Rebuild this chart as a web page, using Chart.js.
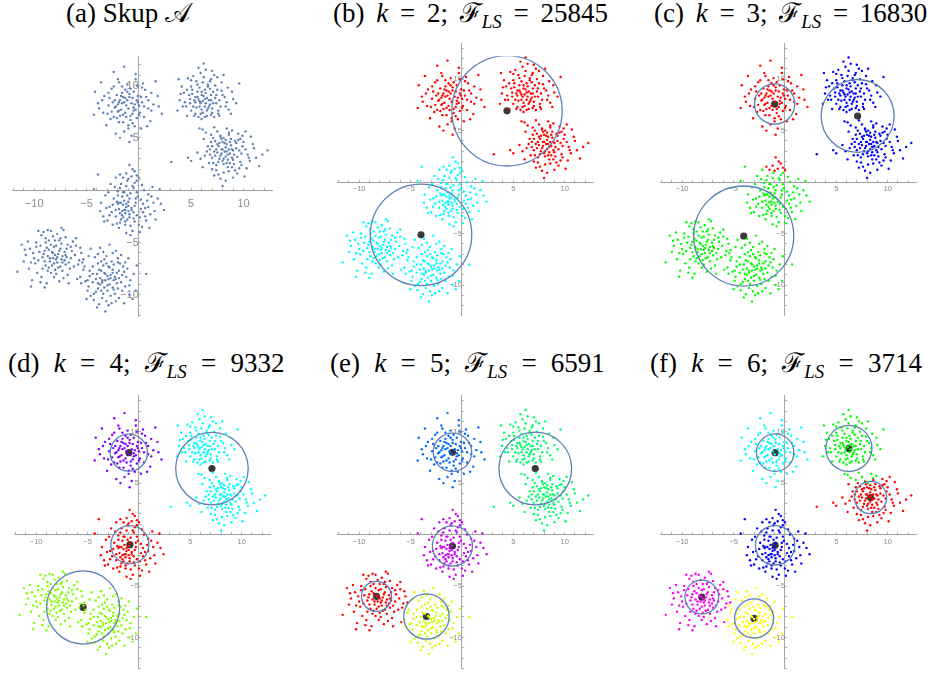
<!DOCTYPE html>
<html>
<head>
<meta charset="utf-8">
<script src="https://cdn.jsdelivr.net/npm/chart.js@4.4.1/dist/chart.umd.min.js"></script>
<style>
body{margin:0;background:#fff;width:928px;height:673px;position:relative;overflow:hidden}
canvas{position:absolute}
.ttl{position:absolute;font-family:"Liberation Serif",serif;font-size:27px;line-height:26px;white-space:nowrap;color:#000}
.ttl.k{word-spacing:5px}
.ttl.k2{word-spacing:7.5px}
.ttl .sb{font-size:0.7em;vertical-align:-0.3em;line-height:0;font-style:italic;word-spacing:0}
</style>
</head>
<body>
<div class="ttl" style="left:66px;top:0">(a) Skup 𝒜</div>
<div class="ttl k" style="left:333px;top:0">(b) <i>k</i> = 2; ℱ<span class="sb">LS</span> = 25845</div>
<div class="ttl k" style="left:654px;top:0">(c) <i>k</i> = 3; ℱ<span class="sb">LS</span> = 16830</div>
<div class="ttl k2" style="left:8px;top:350px">(d) <i>k</i> = 4; ℱ<span class="sb">LS</span> = 9332</div>
<div class="ttl k2" style="left:330px;top:350px">(e) <i>k</i> = 5; ℱ<span class="sb">LS</span> = 6591</div>
<div class="ttl k2" style="left:650px;top:350px">(f) <i>k</i> = 6; ℱ<span class="sb">LS</span> = 3714</div>
<canvas id="pa"></canvas><canvas id="pb"></canvas><canvas id="pc"></canvas>
<canvas id="pd"></canvas><canvas id="pe"></canvas><canvas id="pf"></canvas>
<script>
// point set A, grouped by blob
const clusterA = [[-1.2,8.1],[-0.5,7.6],[-1.8,8.6],[-0.9,9.2],[0.3,8.4],[-2.3,7.9],[-1.5,7.2],[-0.2,6.9],[-2.8,8.8],[0.9,7.8],
 [-1.1,10.1],[-3.4,7.4],[-0.6,8.8],[-1.9,6.5],[0.6,9.6],[-2.6,9.7],[1.4,8.2],[-1.4,5.6],[-0.3,10.6],[-3.9,8.3],
 [-0.8,7.1],[-2.1,9.1],[0.1,7.4],[-1.6,8.3],[-0.4,8.2],[-2.4,7.0],[1.1,6.6],[-3.1,6.2],[-0.7,5.2],[-1.3,9.6],
 [0.4,10.2],[-2.0,10.6],[1.8,9.0],[-4.2,9.4],[-1.0,6.2],[-2.9,8.1],[0.7,8.9],[-1.7,7.7],[-0.1,9.0],[-3.6,10.3],
 [2.2,7.3],[-1.4,11.8],[-2.2,5.4],[0.2,5.9],[-0.9,4.6],[-3.3,9.0],[1.6,10.4],[-1.9,8.4],[-0.5,7.9],[-1.1,8.6],
 [-2.5,8.4],[-0.2,8.6],[0.5,7.0],[-1.6,9.9],[-2.7,6.8],[-3.8,7.8],[1.2,9.3],[-0.6,6.4],[-1.3,7.4],[-2.0,7.5],
 [0.8,6.1],[-4.3,7.2],[-0.3,11.1],[-2.4,11.3],[1.9,8.0],[-1.8,5.0],[-0.8,9.7],[0.0,8.1],[-1.5,8.9],[-2.2,8.0],
 [-1.4,8.4],[-0.7,8.3],[-1.9,7.6],[-0.3,7.7],[-1.2,7.0],[-0.9,8.9],[-2.3,8.6],[-0.1,8.4],[-1.6,9.3],[-0.5,9.4],
 [-2.0,8.2],[-1.0,7.8],[0.2,8.9],[-1.8,7.1],[-0.6,7.3],[-2.6,7.5],[-1.3,8.8],[0.5,8.0],[-0.8,6.7],[-1.7,9.0],
 [-2.1,6.9],[0.0,7.2],[-1.1,9.4],[-2.9,9.3],[0.9,8.6],[-0.4,6.1],[-1.5,6.5],[-3.0,7.3],[1.2,7.6],[-0.2,10.0],
 [-2.4,9.9],[-1.0,5.9],[-3.5,8.6],[0.3,9.8],[-1.9,10.3]];
const clusterB = [[6.1,8.5],[5.6,8.9],[6.8,8.2],[6.4,9.3],[5.2,8.0],[7.3,8.8],[6.0,7.7],[5.8,9.8],[7.0,7.4],[4.8,9.1],
 [6.6,10.1],[7.8,8.0],[5.4,7.3],[6.3,8.0],[4.4,8.4],[7.5,9.6],[5.9,8.3],[6.9,9.1],[5.1,9.6],[8.2,8.9],
 [6.2,10.8],[4.1,9.9],[7.2,7.0],[5.5,10.4],[8.6,7.7],[6.5,7.1],[3.9,8.6],[7.9,10.3],[5.0,7.6],[6.7,8.6],
 [6.0,9.1],[5.3,8.6],[7.1,8.3],[4.6,7.1],[8.9,9.4],[6.4,11.5],[5.7,7.0],[7.6,7.6],[4.7,10.7],[6.9,10.6],
 [9.3,8.3],[3.7,7.6],[6.2,12.1],[8.1,11.0],[5.8,8.0],[6.5,8.8],[5.6,9.4],[7.4,9.1],[4.9,8.3],[6.1,7.4],
 [8.4,8.4],[5.2,10.9],[7.7,7.1],[6.8,9.7],[4.3,9.3],[9.6,10.2],[5.9,11.2],[6.6,7.8],[7.3,10.0],[5.4,8.4],
 [6.3,9.6],[8.0,9.1],[4.5,8.0],[7.0,11.4],[5.0,9.9],[6.0,6.8],[8.8,7.3],[3.8,10.6],[6.7,8.0],[5.7,8.7],
 [6.3,8.7],[5.8,8.5],[6.9,8.6],[6.0,9.4],[5.4,8.9],[7.1,9.4],[6.5,7.6],[5.5,7.9],[7.4,8.3],[6.2,9.0],
 [5.9,7.3],[6.6,9.9],[4.9,8.7],[7.7,8.6],[5.1,9.2],[6.4,8.3],[7.0,7.8],[5.6,10.1],[7.9,9.5],[4.6,9.6],
 [6.8,10.4],[5.3,7.1],[8.3,8.0],[6.1,10.3],[4.2,8.0],[7.5,10.8],[5.7,11.7],[8.5,9.8],[4.0,9.2],[6.9,7.2],
 [7.6,7.3],[5.0,10.5],[9.0,8.7],[6.3,7.0],[7.2,11.0]];
const clusterC = [[8.2,3.7],[7.6,4.2],[8.9,3.1],[8.4,4.4],[7.3,3.3],[9.3,4.0],[8.0,2.8],[7.8,5.1],[9.1,2.5],[6.9,4.6],
 [8.6,5.3],[9.8,3.5],[7.4,2.4],[8.3,3.2],[6.5,3.7],[9.5,4.8],[7.9,3.9],[8.8,4.3],[7.1,5.0],[10.2,3.9],
 [8.1,1.7],[6.2,4.9],[9.2,1.9],[10.6,2.8],[8.5,2.2],[5.9,3.0],[9.9,5.2],[7.0,2.0],[8.7,3.5],
 [7.7,3.0],[8.0,4.6],[9.0,3.8],[6.7,2.6],[10.9,4.4],[7.2,1.4],[9.6,2.1],
 [11.5,2.3],[5.0,2.8],[8.3,0.9],[10.1,1.3],[7.9,3.5],[8.6,3.9],[7.5,3.6],[9.4,3.2],[6.8,3.4],[8.1,2.5],
 [10.4,3.4],[7.3,4.7],[9.7,2.7],[8.8,4.9],[6.1,2.2],[12.3,3.8],[7.8,1.1],[8.5,2.9],[9.3,4.5],[7.4,3.9],
 [8.3,4.8],[9.9,4.2],[6.6,4.2],[9.0,1.2],[7.0,3.1],[8.0,0.4],[10.7,5.1],[3.1,2.7],[8.7,2.6],[7.7,4.5],
 [4.7,3.1],[11.2,3.1],[9.5,5.4],[10.2,5.6],
 [8.0,3.9],[8.5,3.4],[7.8,3.3],[8.9,3.9],[8.3,4.1],[7.5,4.4],[9.1,3.4],[8.1,3.0],[8.7,4.6],[7.2,3.7],
 [9.6,3.8],[8.4,2.6],[7.6,2.7],[9.2,4.7],[8.2,4.5],[7.0,4.2],[9.0,2.9],[8.6,1.8],[7.4,1.9],[9.8,2.4],
 [10.0,4.6],[6.8,3.9],[8.9,2.2],[10.5,3.1],[7.9,4.9],[6.3,3.3],[9.4,1.6],[11.0,4.0],[7.1,2.6],[8.4,3.7],
 [5.6,3.6],[9.7,4.9],[7.6,1.5],[10.3,2.1],[11.8,3.4]];
const clusterCtop = [[7.5,5.6],[8.4,5.9],[8.9,5.7],[6.4,5.5],[6.9,5.3],[7.2,6.0],[6.1,5.8],[7.8,5.2],[8.6,5.5],[5.8,5.9],[8.1,5.0]];
const clusterD = [[-1.0,-1.1],[-1.6,-0.6],[-0.4,-1.5],[-0.8,-0.3],[-1.9,-1.8],[0.2,-0.9],[-1.3,-2.2],[-0.5,0.2],[-2.4,-0.8],[0.6,-1.7],
 [-1.1,-2.8],[-2.0,-0.1],[0.9,-0.4],[-1.5,-1.4],[-0.2,-2.4],[-2.8,-1.6],[0.3,0.5],[-1.8,-3.1],[-0.7,-1.9],[1.4,-1.2],
 [-3.2,-0.5],[-1.2,0.4],[0.0,-3.3],[-2.2,-2.5],[1.1,-2.3],[-0.9,-0.8],[-1.4,-1.9],[-0.3,-1.2],[-2.6,-2.1],[0.5,0.0],
 [-1.7,0.6],[-3.6,-1.2],[1.8,-0.8],[-0.6,-3.9],[-1.2,-1.6],[-2.0,-1.3],[0.7,-2.9],[-1.5,-2.6],[-0.1,-0.6],[-3.0,-2.9],
 [2.4,-1.9],[-4.3,0.1],[-0.8,-4.3],[1.3,0.3],[-1.8,-2.2],[-1.3,-1.9],[-1.6,-2.0],[-1.0,-1.5],[-2.3,0.3],[0.2,-1.8],
 [-2.9,-0.2],[0.8,-1.0],[-0.4,0.7],[-1.9,-3.6],[1.6,-2.8],[-3.7,-2.0],[-0.5,-2.7],[-1.1,0.9],[-2.5,-3.3],[1.0,-3.6],
 [-0.2,0.9],[-1.4,-0.2],[0.4,-2.1],[-2.1,-1.1],[-1.7,-1.2],[-0.9,-2.3],[0.1,-4.0],[-3.3,-3.0],[2.0,0.1],[-1.3,-3.3],
 [-3.9,1.5],[-2.2,1.2],
 [-1.2,-1.3],[-0.7,-1.7],[-1.6,-2.4],[-1.1,-0.5],[-0.3,-0.8],[-1.9,-1.2],[-0.9,-2.6],[-1.4,-1.0],[-0.5,-2.1],[-2.2,-1.9],
 [-1.0,-2.0],[0.4,-1.3],[-1.7,-2.8],[-0.6,0.4],[-2.5,-1.4],[0.1,-2.6],[-1.3,-3.0],[-2.0,-0.5],[0.9,-1.6],[-0.2,-0.2],
 [-2.8,-2.4],[-1.5,-0.2],[0.6,-2.5],[-2.1,-3.2],[-0.8,-3.4],[1.2,-0.6],[-3.1,-1.7],[-0.4,-3.0],[-1.8,0.2],[1.5,-2.0],
 [-2.7,0.6],[0.3,-3.5],[-3.4,-2.5],[2.1,-1.3],[-1.2,-4.1]];
const clusterDtop = [[-1.2,1.6],[-0.6,2.0],[-0.2,1.4],[-1.5,1.2],[-0.9,2.4],[-0.4,1.8],[-1.8,1.5],[0.0,1.2],[-1.0,1.1],[-0.7,1.3]];
const clusterE = [[-8.0,-6.2],[-8.6,-5.7],[-7.4,-6.6],[-7.9,-5.3],[-9.0,-6.8],[-7.1,-5.9],[-8.3,-7.2],[-7.6,-4.8],[-9.5,-5.9],[-6.7,-6.9],
 [-8.2,-4.4],[-9.2,-7.5],[-6.5,-5.4],[-8.7,-6.3],[-7.3,-7.7],[-10.0,-6.5],[-7.0,-4.5],[-8.9,-5.0],[-7.8,-6.9],[-6.1,-6.2],
 [-9.7,-7.9],[-8.4,-3.9],[-6.8,-8.1],[-10.4,-5.6],[-7.5,-5.6],[-8.1,-8.3],[-5.8,-7.1],[-9.3,-4.3],[-7.7,-6.1],[-8.5,-6.8],
 [-6.9,-6.4],[-9.9,-7.0],[-8.8,-8.9],[-6.3,-4.9],[-10.8,-6.2],[-7.2,-3.8],[-5.5,-6.0],[-9.1,-6.1],[-8.0,-7.6],[-7.4,-5.1],
 [-11.6,-7.8],[-6.6,-7.5],[-8.6,-4.8],[-10.2,-8.6],[-7.9,-6.6],[-8.3,-5.9],[-7.1,-6.7],[-9.4,-5.3],[-8.9,-7.2],[-6.4,-5.8],
 [-10.6,-4.9],[-7.6,-8.7],[-5.9,-8.5],[-9.6,-3.9],[-8.4,-7.9],[-7.0,-7.1],[-11.2,-5.2],[-8.1,-5.4],[-6.0,-4.6],[-9.0,-9.3],
 [-7.3,-6.3],[-8.7,-7.7],[-10.1,-6.0],[-6.8,-5.2],[-7.8,-4.2],[-9.3,-8.3],[-5.3,-6.6],[-8.2,-6.5],[-7.5,-7.3],[-9.8,-5.0],
 [-10.3,-9.2],
 [-8.2,-6.0],[-7.8,-6.4],[-8.5,-6.5],[-7.6,-5.8],[-8.8,-5.5],[-7.3,-6.9],[-8.1,-7.0],[-9.2,-6.4],[-7.0,-6.2],[-8.4,-5.2],
 [-7.7,-7.4],[-9.0,-5.8],[-6.9,-5.6],[-8.6,-7.4],[-7.5,-4.6],[-9.6,-6.7],[-6.5,-6.5],[-8.9,-4.6],[-7.9,-8.0],[-10.3,-6.9],
 [-6.2,-7.3],[-9.8,-5.4],[-8.0,-4.8],[-7.2,-8.4],[-10.9,-5.7],[-6.0,-5.3],[-9.4,-8.8],[-8.7,-3.8],[-5.7,-6.7],[-10.5,-7.5],
 [-7.4,-3.6],[-9.1,-4.0],[-6.7,-8.9],[-11.0,-6.8],[-5.6,-5.5]];
const clusterF = [[-3.0,-8.2],[-3.6,-7.7],[-2.4,-8.6],[-2.8,-7.4],[-3.9,-8.9],[-2.1,-7.9],[-3.3,-9.3],[-2.6,-6.8],[-4.4,-8.0],[-1.7,-8.8],
 [-3.1,-6.3],[-4.1,-9.7],[-1.5,-7.3],[-3.7,-8.4],[-2.3,-9.9],[-4.9,-8.6],[-2.0,-6.5],[-3.9,-7.0],[-2.8,-9.0],[-1.2,-8.3],
 [-4.6,-10.1],[-3.4,-5.9],[-1.9,-10.3],[-5.3,-7.6],[-2.5,-7.6],[-3.1,-10.6],[-0.9,-9.1],[-4.2,-6.4],[-2.7,-8.1],[-3.5,-8.8],
 [-1.9,-8.4],[-4.8,-9.2],[-3.8,-10.9],[-1.3,-6.9],[-5.6,-8.3],[-2.2,-5.8],[-0.5,-8.0],[-4.0,-8.0],[-3.0,-9.6],[-2.4,-7.1],
 [-3.2,-11.6],[-1.6,-9.6],[-3.6,-6.8],[-5.0,-10.4],[-2.9,-8.5],[-3.3,-7.9],[-2.1,-8.9],[-4.4,-7.3],[-3.9,-9.4],[-1.4,-7.8],
 [-5.4,-6.9],[-2.6,-10.8],[-0.9,-10.0],[-4.6,-5.6],[-3.4,-9.9],[-2.0,-9.4],[-4.7,-7.7],[-3.1,-7.0],[-1.0,-6.5],[-4.0,-11.2],
 [-2.3,-8.3],[-3.7,-9.0],[-5.1,-8.7],[-1.8,-7.0],[-2.8,-5.2],[-4.3,-10.5],[-0.3,-9.6],[-3.2,-8.6],[-2.5,-9.3],[-4.8,-6.3],
 [0.7,-8.0],[-0.2,-7.2],
 [-3.2,-8.0],[-2.7,-8.4],[-3.5,-8.6],[-2.5,-7.9],[-3.8,-7.6],[-2.2,-8.5],[-3.0,-9.1],[-2.9,-7.3],[-4.1,-8.5],[-1.9,-7.7],
 [-3.4,-7.2],[-2.4,-9.5],[-3.6,-9.6],[-1.6,-8.1],[-4.4,-8.8],[-2.0,-6.9],[-3.3,-6.6],[-4.7,-8.2],[-1.3,-9.2],[-2.7,-10.1],
 [-3.9,-6.1],[-1.1,-7.5],[-4.3,-9.9],[-2.2,-10.6],[-5.2,-7.3],[-0.8,-8.6],[-3.5,-10.3],[-1.7,-6.2],[-4.9,-9.6],[-2.9,-11.0],
 [-0.6,-10.4],[-5.5,-8.9],[-3.7,-5.5],[-1.4,-10.8],[-2.5,-6.0]];

const groups = [clusterA, clusterB, clusterC, clusterCtop, clusterD, clusterDtop, clusterE, clusterF];

// colour of each group in each panel  (order: A, B, C, Ctop, D, Dtop, E, F)
const colorsA = ['#5e81b5','#5e81b5','#5e81b5','#5e81b5','#5e81b5','#5e81b5','#5e81b5','#5e81b5'];
const colorsB = ['#ff0000','#ff0000','#ff0000','#ff0000','#00ffff','#00ffff','#00ffff','#00ffff'];
const colorsC = ['#ff0000','#0000ff','#0000ff','#0000ff','#00ff00','#ff0000','#00ff00','#00ff00'];
const colorsD = ['#8000ff','#00ffff','#00ffff','#00ffff','#ff0000','#ff0000','#80ff00','#80ff00'];
const colorsE = ['#0066ff','#00ff66','#00ff66','#00ff66','#cc00ff','#cc00ff','#ff0000','#ccff00'];
const colorsF = ['#00ffff','#00ff00','#ff0000','#00ff00','#0000ff','#0000ff','#ff00ff','#ffff00'];

// cluster centres and circle radii
const centersB = [[4.39,6.92],[-3.98,-5.12]];
const radiiB = [5.37,4.94];
const centersC = [[-1.0,7.58],[7.08,6.42],[-4.01,-5.24]];
const radiiC = [1.96,3.55,4.87];
const centersD = [[-0.98,7.96],[7.11,6.41],[-0.88,-0.98],[-5.43,-7.08]];
const radiiD = [1.81,3.53,1.85,3.56];
const centersE = [[-0.92,7.99],[7.14,6.41],[-0.92,-1.11],[-8.31,-6.0],[-3.45,-7.96]];
const radiiE = [1.87,3.54,1.95,1.46,2.21];
const centersF = [[-0.95,7.96],[6.23,8.37],[8.34,3.6],[-0.95,-1.04],[-8.09,-6.07],[-3.0,-8.15]];
const radiiF = [1.82,2.24,1.57,1.92,1.64,1.9];

const PX = 10.55; // pixels per unit

const panels = [
  {id:'pa', colors:colorsA, centers:[], radii:[], ox:138.7, oy:189.7, xr:[-12.1,12.8], yr:[-12.1,12.8], fs:11, px:10, py:6.7},
  {id:'pb', colors:colorsB, centers:centersB, radii:radiiB, clipTop:12.23, ox:461.7, oy:181.7, xr:[-12.1,12.8], yr:[-12.95,13.45], fs:7.5, px:5.8, py:5.7},
  {id:'pc', colors:colorsC, centers:centersC, radii:radiiC, ox:784.3, oy:181.7, xr:[-12.1,12.8], yr:[-12.95,13.45], fs:7.5, px:5.8, py:5.7},
  {id:'pd', colors:colorsD, centers:centersD, radii:radiiD, ox:139, oy:534, xr:[-12.1,12.8], yr:[-13.0,13.5], fs:7.5, px:5.8, py:5.7},
  {id:'pe', colors:colorsE, centers:centersE, radii:radiiE, ox:461.7, oy:534, xr:[-12.1,12.8], yr:[-13.0,13.5], fs:7.5, px:5.8, py:5.7},
  {id:'pf', colors:colorsF, centers:centersF, radii:radiiF, ox:784.3, oy:534, xr:[-12.1,12.8], yr:[-13.0,13.5], fs:7.5, px:5.8, py:5.7}
];

const ringPlugin = {
  id: 'rings',
  afterDatasetsDraw(chart, args, o) {
    if (!o.centers || !o.centers.length) return;
    const {ctx, chartArea, scales: {x, y}} = chart;
    ctx.save();
    const top = o.clipTop != null ? y.getPixelForValue(o.clipTop) : chartArea.top;
    ctx.beginPath();
    ctx.rect(chartArea.left, top, chartArea.right - chartArea.left, chartArea.bottom - top);
    ctx.clip();
    ctx.strokeStyle = '#5b7fb6';
    ctx.lineWidth = 1.3;
    o.centers.forEach((c, i) => {
      const cx = x.getPixelForValue(c[0]), cy = y.getPixelForValue(c[1]);
      const r = x.getPixelForValue(c[0] + o.radii[i]) - cx;
      ctx.beginPath();
      ctx.arc(cx, cy, r, 0, Math.PI * 2);
      ctx.stroke();
    });
    ctx.restore();
  }
};

function axis(range, pos, fs, pad) {
  return {
    type: 'linear', min: range[0], max: range[1], position: pos,
    afterFit(sc) {
      if (sc.isHorizontal()) sc.height = 0; else sc.width = 0;
      sc.paddingLeft = sc.paddingRight = sc.paddingTop = sc.paddingBottom = 0;
    },
    ticks: {
      stepSize: 1, maxTicksLimit: 100, includeBounds: false, autoSkip: false,
      maxRotation: 0, minRotation: 0, padding: pad, color: '#8a8a8a',
      font: {size: fs, family: 'Liberation Sans'},
      callback: v => (v !== 0 && v % 5 === 0) ? (v < 0 ? '\u2212' + (-v) : '' + v) : ''
    },
    grid: {
      drawOnChartArea: false, drawTicks: true, tickLength: -3, tickWidth: 1,
      tickColor: c => (c.tick && c.tick.value === 0) ? 'rgba(0,0,0,0)' : '#b4b4b4'
    },
    border: {display: true, color: '#a6a6a6', width: 1}
  };
}

panels.forEach(p => {
  const cv = document.getElementById(p.id);
  const left = Math.round(p.ox + p.xr[0] * PX), top = Math.round(p.oy - p.yr[1] * PX);
  const w = Math.round((p.xr[1] - p.xr[0]) * PX), h = Math.round((p.yr[1] - p.yr[0]) * PX);
  cv.width = w; cv.height = h;
  cv.style.left = left + 'px'; cv.style.top = top + 'px';
  cv.style.width = w + 'px'; cv.style.height = h + 'px';

  const datasets = groups.map((g, i) => ({
    data: g.map(q => ({x: q[0], y: q[1]})),
    backgroundColor: p.colors[i], pointRadius: 1.2, pointBorderWidth: 0, pointHoverRadius: 0
  }));
  if (p.centers.length) {
    datasets.push({
      data: p.centers.map(q => ({x: q[0], y: q[1]})),
      backgroundColor: '#383838', pointRadius: 3.6, pointBorderWidth: 0, pointHoverRadius: 0
    });
  }

  new Chart(cv, {
    type: 'scatter',
    data: {datasets},
    plugins: [ringPlugin],
    options: {
      responsive: false, animation: false, events: [],
      layout: {padding: 0},
      plugins: {
        legend: {display: false}, tooltip: {enabled: false},
        rings: {centers: p.centers, radii: p.radii, clipTop: p.clipTop}
      },
      scales: {
        x: axis(p.xr, {y: 0}, p.fs, p.px),
        y: axis(p.yr, {x: 0}, p.fs, p.py)
      }
    }
  });
});
</script>
</body>
</html>
